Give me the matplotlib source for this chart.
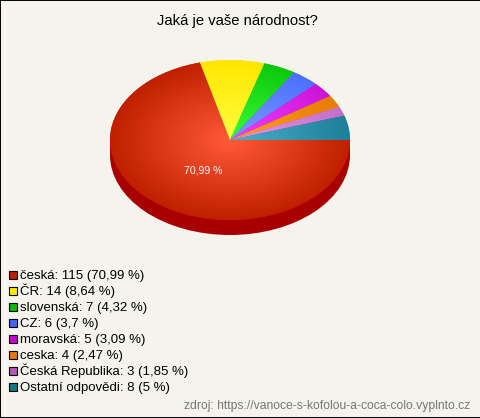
import numpy as np
import matplotlib
matplotlib.use("Agg")
import matplotlib.pyplot as plt
from matplotlib.colors import LinearSegmentedColormap
from matplotlib.patches import Ellipse, Rectangle

plt.rcParams["font.family"] = ["Liberation Sans", "DejaVu Sans"]

# ==========================
# Data
# ==========================
title = "Jaká je vaše národnost?"
source = "zdroj: https://vanoce-s-kofolou-a-coca-colo.vyplnto.cz"
categories = ["česká", "ČR", "slovenská", "CZ", "moravská", "ceska", "Česká Republika", "Ostatní odpovědi"]
counts = [115, 14, 7, 6, 5, 4, 3, 8]
percents = ["70,99", "8,64", "4,32", "3,7", "3,09", "2,47", "1,85", "5"]

# colours: rim of the slice, middle of the pie, legend square
edge_colors = ["#c02000", "#ffe600", "#0cc80c", "#4c70ff", "#cc14d8", "#e87c00", "#c470c8", "#1f7f9a"]
mid_colors = ["#ff5a3a", "#ffff40", "#38ff38", "#7a9aff", "#f040ff", "#ffa028", "#e894ee", "#4cb0c8"]
legend_colors = ["#c01c00", "#ffe800", "#00bb00", "#4466ff", "#cc00cc", "#ee7700", "#bb55bb", "#117788"]

W, H = 480, 418
bg = "#f5f4ec"

fig = plt.figure(figsize=(W / 100, H / 100), dpi=100, facecolor=bg)

# ==========================
# Pie (squashed to an ellipse)
# ==========================
cx, cy, rx, ry, depth = 230, 140, 120, 80, 15
ax = fig.add_axes([(cx - rx) / W, 1 - (cy + ry) / H, 2 * rx / W, 2 * ry / H], zorder=1)
wedges, _ = ax.pie(counts, startangle=0, counterclock=False, radius=1, center=(0, 0),
                   wedgeprops={"linewidth": 0})

grid = np.linspace(-1, 1, 400)
xx, yy = np.meshgrid(grid, grid)
rr = np.clip(np.hypot(xx, yy), 0, 1)
for w, c_edge, c_mid in zip(wedges, edge_colors, mid_colors):
    w.set_facecolor(c_edge)
    w.set_zorder(3)
    cmap = LinearSegmentedColormap.from_list("s", [c_mid, c_edge])
    im = ax.imshow(rr, cmap=cmap, extent=(-1, 1, -1, 1), aspect="auto", zorder=4, vmin=0, vmax=1)
    im.set_clip_path(w)

# side of the pie
shift = depth / ry
side = "#a80000"
ax.add_patch(Ellipse((0, -shift), 2, 2, facecolor=side, linewidth=0, zorder=1, clip_on=False))
ax.add_patch(Rectangle((-1, -shift), 2, shift, facecolor=side, linewidth=0, zorder=1, clip_on=False))
ax.set_aspect("auto")
ax.set_xlim(-1, 1)
ax.set_ylim(-1, 1)
ax.axis("off")

# ==========================
# Texts and legend in pixel coordinates
# ==========================
over = fig.add_axes([0, 0, 1, 1], zorder=2)
over.set_xlim(0, W)
over.set_ylim(H, 0)
over.patch.set_alpha(0)
over.set_xticks([])
over.set_yticks([])
for s in over.spines.values():
    s.set_color("black")
    s.set_linewidth(1.4)
over.spines["right"].set_visible(False)

over.text(237.5, 25, title, ha="center", va="baseline", fontsize=10.6, color="black")
over.text(203.5, 170.5, percents[0] + " %", ha="center", va="center", fontsize=7.6, color="white")

for i, (name, n, p, col) in enumerate(zip(categories, counts, percents, legend_colors)):
    y = 274.5 + i * 16.05
    over.add_patch(Rectangle((9, y - 4), 8, 8, facecolor=col, edgecolor="black", linewidth=0.8))
    over.text(20.5, y + 4.5, f"{name}: {n} ({p} %)", ha="left", va="baseline", fontsize=9.5, color="black")

over.text(470, 409, source, ha="right", va="baseline", fontsize=8.72, color="#777777")

fig.savefig("out.png", dpi=100, facecolor=bg)
